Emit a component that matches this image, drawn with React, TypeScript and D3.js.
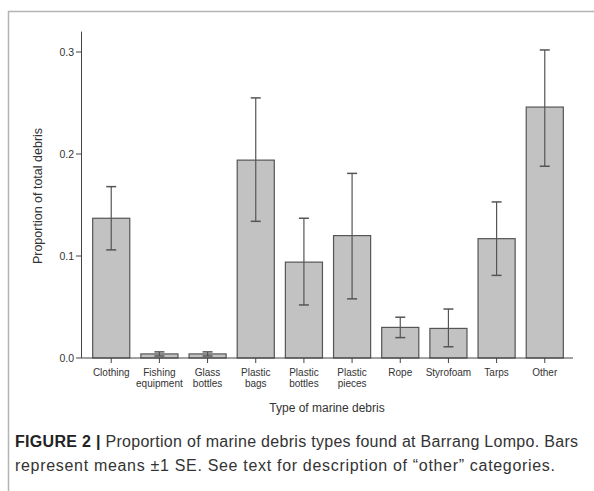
import React, { useRef, useEffect } from 'react';
import * as d3 from 'd3';

// Values (proportion of total debris, mean and ±1 SE)
const categories = [
  ['Clothing'],
  ['Fishing', 'equipment'],
  ['Glass', 'bottles'],
  ['Plastic', 'bags'],
  ['Plastic', 'bottles'],
  ['Plastic', 'pieces'],
  ['Rope'],
  ['Styrofoam'],
  ['Tarps'],
  ['Other'],
];
const means = [0.137, 0.004, 0.004, 0.194, 0.094, 0.12, 0.03, 0.029, 0.117, 0.246];
const lower = [0.106, 0.002, 0.002, 0.134, 0.052, 0.058, 0.02, 0.011, 0.081, 0.188];
const upper = [0.168, 0.006, 0.006, 0.255, 0.137, 0.181, 0.04, 0.048, 0.153, 0.302];
const yTicks = [0, 0.1, 0.2, 0.3];

const captionLines = [
  { bold: 'FIGURE 2 | ', text: 'Proportion of marine debris types found at Barrang Lompo. Bars', len: 563 },
  { bold: '', text: 'represent means \u00b11 SE. See text for description of \u201cother\u201d categories.', len: 540 },
];

const FONT = 'Liberation Sans, Arial, sans-serif';

const App: React.FC = () => {
  const svgRef = useRef<SVGSVGElement>(null);
  const width = 594;
  const height = 491;

  useEffect(() => {
    const svg = d3.select(svgRef.current);
    svg.selectAll('*').remove();

    // outer frame of the figure panel
    svg.append('rect')
      .attr('x', 8.5)
      .attr('y', 11.5)
      .attr('width', 620)
      .attr('height', 520)
      .attr('fill', 'none')
      .attr('stroke', '#b4b4b4')
      .attr('stroke-width', 1.5);

    const keys = categories.map((c) => c.join(' '));
    const x = d3.scaleBand<string>()
      .domain(keys)
      .range([86.9, 569.1])
      .paddingInner(0.23)
      .paddingOuter(0.12);

    const y = d3.scaleLinear().domain([0, 0.3]).range([358, 52]);

    const axisColor = '#444';
    const textColor = '#333';

    // y axis
    svg.append('line')
      .attr('x1', 81.5).attr('x2', 81.5)
      .attr('y1', y(0.32)).attr('y2', y(0))
      .attr('stroke', axisColor);
    yTicks.forEach((t) => {
      svg.append('line')
        .attr('x1', 76).attr('x2', 81.5)
        .attr('y1', y(t)).attr('y2', y(t))
        .attr('stroke', axisColor);
      svg.append('text')
        .attr('x', 74)
        .attr('y', y(t))
        .attr('dy', '0.35em')
        .attr('text-anchor', 'end')
        .style('font-family', FONT)
        .style('font-size', '10.5px')
        .style('fill', textColor)
        .text(d3.format('.1f')(t));
    });

    // bars
    const bw = x.bandwidth();
    keys.forEach((k, i) => {
      svg.append('rect')
        .attr('x', x(k)!)
        .attr('y', y(means[i]))
        .attr('width', bw)
        .attr('height', y(0) - y(means[i]))
        .attr('fill', '#c2c2c2')
        .attr('stroke', '#555')
        .attr('stroke-width', 1.2);
    });

    // error bars
    keys.forEach((k, i) => {
      const cx = x(k)! + bw / 2;
      svg.append('line')
        .attr('x1', cx).attr('x2', cx)
        .attr('y1', y(lower[i])).attr('y2', y(upper[i]))
        .attr('stroke', '#555')
        .attr('stroke-width', 1.2);
      [lower[i], upper[i]].forEach((v) => {
        svg.append('line')
          .attr('x1', cx - 5).attr('x2', cx + 5)
          .attr('y1', y(v)).attr('y2', y(v))
          .attr('stroke', '#555')
          .attr('stroke-width', 1.5);
      });
    });

    // x axis
    svg.append('line')
      .attr('x1', 81.5).attr('x2', 573)
      .attr('y1', y(0)).attr('y2', y(0))
      .attr('stroke', axisColor);
    keys.forEach((k, i) => {
      const cx = x(k)! + bw / 2;
      svg.append('line')
        .attr('x1', cx).attr('x2', cx)
        .attr('y1', y(0)).attr('y2', y(0) + 5)
        .attr('stroke', axisColor);
      const t = svg.append('text')
        .attr('x', cx)
        .attr('y', y(0) + 18)
        .attr('text-anchor', 'middle')
        .style('font-family', FONT)
        .style('font-size', '10px')
        .style('fill', textColor);
      categories[i].forEach((line, j) => {
        t.append('tspan')
          .attr('x', cx)
          .attr('dy', j === 0 ? 0 : 11)
          .text(line);
      });
    });

    // axis titles
    svg.append('text')
      .attr('x', 327)
      .attr('y', 412)
      .attr('text-anchor', 'middle')
      .style('font-family', FONT)
      .style('font-size', '12px')
      .style('fill', textColor)
      .text('Type of marine debris');

    svg.append('text')
      .attr('transform', 'rotate(-90)')
      .attr('x', -196)
      .attr('y', 42)
      .attr('text-anchor', 'middle')
      .style('font-family', FONT)
      .style('font-size', '12.5px')
      .style('fill', textColor)
      .text('Proportion of total debris');

    // caption
    captionLines.forEach((c, i) => {
      const t = svg.append('text')
        .attr('x', 15)
        .attr('y', 447 + i * 24)
        .attr('textLength', c.len)
        .attr('lengthAdjust', 'spacing')
        .style('font-family', FONT)
        .style('font-size', '16px')
        .style('fill', '#333');
      if (c.bold) {
        t.append('tspan').style('font-weight', 'bold').style('fill', '#222').text(c.bold);
      }
      t.append('tspan').text(c.text);
    });
  }, []);

  return (
    <svg
      ref={svgRef}
      width={width}
      height={height}
      style={{ position: 'absolute', left: 0, top: 0, background: '#fff' }}
    />
  );
};

export default App;
